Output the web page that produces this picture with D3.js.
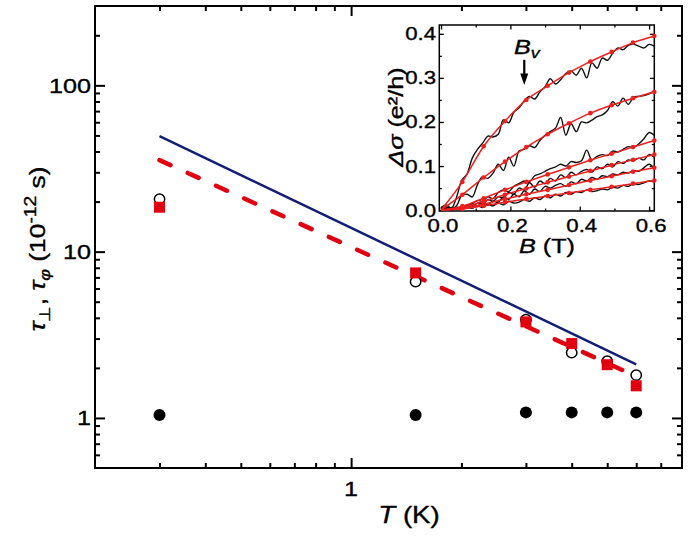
<!DOCTYPE html>
<html>
<head>
<meta charset="utf-8">
<script src="https://cdn.jsdelivr.net/npm/d3@7"></script>
<style>
  body { margin: 0; background: #fff; }
  svg text { font-family: "Liberation Sans", Arial, sans-serif; fill: #000; stroke: #000; stroke-width: 0.35px; }
</style>
</head>
<body>
<div id="chart"></div>
<script>
////////////////////////////////////////////////////////////
//////////////////////// Data //////////////////////////////
////////////////////////////////////////////////////////////

// main panel: temperature (K) and times (10^-12 s)
var T = [0.3, 1.5, 3, 4, 5, 6];
var tauPerp = [1.04, 1.04, 1.08, 1.08, 1.08, 1.08];     // filled circles
var tauPhiOpen = [20.7, 6.6, 3.9, 2.47, 2.19, 1.81];     // open circles
var tauPhiSquare = [18.5, 7.45, 3.78, 2.8, 2.09, 1.56];  // red squares

var fitT = [0.3, 6];
var fitBlue = [49.5, 2.1];
var fitRed = [35.5, 1.78];

var mainXLabels = [1];
var mainYLabels = [1, 10, 100];

// inset: magnetoconductance vs B (T)
var Bfit = [0, 0.0615, 0.123, 0.1845, 0.246, 0.3075, 0.369, 0.4305, 0.492, 0.5535, 0.615];
var fit1 = [0, 0.064, 0.145, 0.202, 0.25, 0.282, 0.312, 0.337, 0.359, 0.38, 0.395];
var fit2 = [0, 0.035, 0.074, 0.11, 0.143, 0.172, 0.197, 0.22, 0.238, 0.254, 0.268];
var fit3 = [0, 0.009, 0.027, 0.046, 0.064, 0.081, 0.097, 0.113, 0.128, 0.143, 0.158];
var fit4 = [0, 0.006, 0.02, 0.035, 0.049, 0.063, 0.076, 0.089, 0.102, 0.114, 0.126];
var fit5 = [0, 0.004, 0.014, 0.025, 0.036, 0.046, 0.057, 0.067, 0.077, 0.087, 0.096];
var fit6 = [0, 0.003, 0.01, 0.018, 0.025, 0.032, 0.039, 0.046, 0.053, 0.06, 0.067];

var Bmeas = [0, 0.015, 0.03, 0.045, 0.06, 0.075, 0.09, 0.105, 0.12, 0.135,
             0.15, 0.165, 0.18, 0.195, 0.21, 0.225, 0.24, 0.255, 0.27, 0.285,
             0.3, 0.315, 0.33, 0.345, 0.36, 0.375, 0.39, 0.405, 0.42, 0.435,
             0.45, 0.465, 0.48, 0.495, 0.51, 0.525, 0.54, 0.555, 0.57, 0.585,
             0.6, 0.615];
var meas1 = [0.005, 0.012, 0.004, 0.03, 0.068, 0.082, 0.118, 0.138, 0.152, 0.168,
             0.166, 0.172, 0.205, 0.198, 0.222, 0.232, 0.248, 0.258, 0.252, 0.268,
             0.28, 0.298, 0.286, 0.296, 0.31, 0.316, 0.306, 0.322, 0.3, 0.334,
             0.322, 0.345, 0.34, 0.356, 0.368, 0.364, 0.374, 0.376, 0.372, 0.368,
             0.376, 0.372];
var meas2 = [0.002, 0.006, 0.003, 0.01, 0.034, 0.036, 0.03, 0.058, 0.076, 0.072,
             0.084, 0.104, 0.09, 0.12, 0.1, 0.134, 0.138, 0.146, 0.142, 0.158,
             0.17, 0.178, 0.186, 0.21, 0.17, 0.196, 0.178, 0.2, 0.198, 0.204,
             0.212, 0.216, 0.226, 0.246, 0.236, 0.254, 0.24, 0.256, 0.258, 0.26,
             0.264, 0.27];
var meas3 = [0.004, 0.008, 0.002, 0.006, 0.004, 0.01, 0.014, 0.022, 0.02, 0.03,
             0.026, 0.04, 0.046, 0.042, 0.054, 0.06, 0.066, 0.064, 0.078, 0.082,
             0.088, 0.094, 0.098, 0.104, 0.1, 0.11, 0.108, 0.112, 0.136, 0.114,
             0.122, 0.126, 0.124, 0.134, 0.132, 0.138, 0.144, 0.142, 0.15, 0.162,
             0.176, 0.17];
var meas4 = [0.002, 0.004, 0, 0.006, 0.002, 0.008, 0.006, 0.016, 0.012, 0.024,
             0.02, 0.03, 0.028, 0.04, 0.036, 0.05, 0.046, 0.062, 0.052, 0.066,
             0.06, 0.072, 0.066, 0.08, 0.074, 0.086, 0.08, 0.088, 0.092, 0.086,
             0.098, 0.094, 0.104, 0.098, 0.11, 0.106, 0.114, 0.112, 0.118, 0.114,
             0.126, 0.12];
var meas5 = [0.004, 0, 0.006, 0.002, 0.008, 0.004, 0.01, 0.008, 0.016, 0.012,
             0.02, 0.018, 0.03, 0.024, 0.036, 0.03, 0.044, 0.036, 0.048, 0.042,
             0.054, 0.05, 0.056, 0.06, 0.054, 0.064, 0.06, 0.07, 0.066, 0.074,
             0.07, 0.078, 0.076, 0.082, 0.08, 0.086, 0.084, 0.09, 0.088, 0.096,
             0.104, 0.094];
var meas6 = [0.002, 0.006, 0, 0.004, 0.002, 0.006, 0.004, 0.01, 0.006, 0.012,
             0.01, 0.016, 0.012, 0.02, 0.016, 0.018, 0.024, 0.02, 0.028, 0.024,
             0.032, 0.028, 0.036, 0.032, 0.04, 0.036, 0.042, 0.04, 0.046, 0.042,
             0.044, 0.048, 0.046, 0.052, 0.05, 0.056, 0.054, 0.06, 0.058, 0.062,
             0.066, 0.064];

var insetXLabels = [0, 0.2, 0.4, 0.6];
var insetYLabels = [0, 0.1, 0.2, 0.3, 0.4];
var Bv = 0.24;

////////////////////////////////////////////////////////////
//////////////////////// Setup /////////////////////////////
////////////////////////////////////////////////////////////

var width = 688, height = 537;
var blue = "#121f74", red = "#e0000f", red2 = "#ee1f1f";
var SX = 1.2; // the fonts in the figure are a bit wide

var svg = d3.select("#chart").append("svg")
    .attr("width", width)
    .attr("height", height);

var x = d3.scaleLog().domain([0.2, 8]).range([95, 682]);
var y = d3.scaleLog().domain([0.5, 300]).range([468, 6]);

function isDecade(v) {
  var l = Math.log10(v);
  return Math.abs(l - Math.round(l)) < 1e-6;
}

//text placed with a translate and a horizontal stretch
function label(x0, y0, size, anchor, rot) {
  return svg.append("text")
    .attr("transform", "translate(" + x0 + "," + y0 + ")" + (rot ? " rotate(" + rot + ")" : "") + " scale(" + SX + ",1)")
    .attr("text-anchor", anchor)
    .style("font-size", size + "px");
}

function styleAxis(g, w) {
  g.select(".domain").remove();
  g.selectAll(".tick line").attr("stroke", "#000").attr("stroke-width", w);
}

////////////////////////////////////////////////////////////
////////////////////// Main axes ///////////////////////////
////////////////////////////////////////////////////////////

var xMinor = x.ticks().filter(function (v) { return !isDecade(v) && v > 0.2 && v < 8; });
var yMinor = y.ticks().filter(function (v) { return !isDecade(v) && v > 0.5 && v < 300; });

[[d3.axisBottom, "translate(0,468)", x], [d3.axisTop, "translate(0,6)", x],
 [d3.axisLeft, "translate(95,0)", y], [d3.axisRight, "translate(682,0)", y]]
.forEach(function (a) {
  var sc = a[2];
  var minor = sc === x ? xMinor : yMinor;
  var major = sc === x ? mainXLabels : mainYLabels;
  svg.append("g").attr("transform", a[1])
    .call(a[0](sc).tickValues(minor).tickSize(-5).tickSizeOuter(0).tickFormat(""))
    .call(styleAxis, 2);
  svg.append("g").attr("transform", a[1])
    .call(a[0](sc).tickValues(major).tickSize(-10).tickSizeOuter(0).tickFormat(""))
    .call(styleAxis, 2);
});

svg.append("rect")
  .attr("x", 95).attr("y", 6)
  .attr("width", 587).attr("height", 462)
  .attr("fill", "none").attr("stroke", "#000").attr("stroke-width", 2);

mainYLabels.forEach(function (v) {
  label(91, y(v) + 7.5, 21, "end").text(v);
});
mainXLabels.forEach(function (v) {
  label(x(v), 496, 21, "middle").text(v);
});

var xt = label(409, 523, 23, "middle");
xt.append("tspan").style("font-style", "italic").text("T");
xt.append("tspan").text(" (K)");

var yt = label(45, 249, 22, "middle", -90);
yt.append("tspan").style("font-style", "italic").text("τ");
yt.append("tspan").attr("dy", 5).style("font-size", "15px").text("⊥");
yt.append("tspan").attr("dy", -5).text(", ");
yt.append("tspan").style("font-style", "italic").text("τ");
yt.append("tspan").attr("dy", 5).style("font-size", "15px").style("font-style", "italic").text("φ");
yt.append("tspan").attr("dy", -5).text(" (10");
yt.append("tspan").attr("dy", -9).style("font-size", "16px").text("-12");
yt.append("tspan").attr("dy", 9).text(" s)");

////////////////////////////////////////////////////////////
////////////////////// Main marks //////////////////////////
////////////////////////////////////////////////////////////

var line = d3.line()
  .x(function (d) { return x(d[0]); })
  .y(function (d) { return y(d[1]); });

svg.append("path")
  .datum(d3.zip(fitT, fitBlue))
  .attr("d", line)
  .attr("fill", "none").attr("stroke", blue).attr("stroke-width", 2.5);

svg.append("path")
  .datum(d3.zip(fitT, fitRed))
  .attr("d", line)
  .attr("fill", "none").attr("stroke", red).attr("stroke-width", 4.5)
  .attr("stroke-linecap", "round")
  .attr("stroke-dasharray", "12,19");

svg.append("g").selectAll("circle")
  .data(d3.zip(T, tauPhiOpen))
  .enter().append("circle")
  .attr("cx", function (d) { return x(d[0]); })
  .attr("cy", function (d) { return y(d[1]); })
  .attr("r", 5.2)
  .attr("fill", "#fff").attr("stroke", "#000").attr("stroke-width", 1.5);

svg.append("g").selectAll("rect")
  .data(d3.zip(T, tauPhiSquare))
  .enter().append("rect")
  .attr("x", function (d) { return x(d[0]) - 5.5; })
  .attr("y", function (d) { return y(d[1]) - 5.5; })
  .attr("width", 11).attr("height", 11)
  .attr("fill", red);

svg.append("g").selectAll("circle")
  .data(d3.zip(T, tauPerp))
  .enter().append("circle")
  .attr("cx", function (d) { return x(d[0]); })
  .attr("cy", function (d) { return y(d[1]); })
  .attr("r", 6)
  .attr("fill", "#000");

////////////////////////////////////////////////////////////
//////////////////////// Inset /////////////////////////////
////////////////////////////////////////////////////////////

var xi = d3.scaleLinear().domain([-0.005, 0.615]).range([439.3, 654.3]);
var yi = d3.scaleLinear().domain([-0.002, 0.42]).range([211, 25]);

var xiMajor = insetXLabels, xiMinor = [0.1, 0.3, 0.5];
var yiMajor = insetYLabels, yiMinor = [0.05, 0.15, 0.25, 0.35];

[[d3.axisBottom, "translate(0,211)", xi], [d3.axisTop, "translate(0,25)", xi],
 [d3.axisLeft, "translate(439.3,0)", yi], [d3.axisRight, "translate(654.3,0)", yi]]
.forEach(function (a) {
  var sc = a[2];
  svg.append("g").attr("transform", a[1])
    .call(a[0](sc).tickValues(sc === xi ? xiMinor : yiMinor).tickSize(-2.5).tickSizeOuter(0).tickFormat(""))
    .call(styleAxis, 1.3);
  svg.append("g").attr("transform", a[1])
    .call(a[0](sc).tickValues(sc === xi ? xiMajor : yiMajor).tickSize(-4.5).tickSizeOuter(0).tickFormat(""))
    .call(styleAxis, 1.3);
});

svg.append("rect")
  .attr("x", 439.3).attr("y", 25)
  .attr("width", 215).attr("height", 186)
  .attr("fill", "none").attr("stroke", "#000").attr("stroke-width", 1.5);

insetYLabels.forEach(function (v) {
  label(436, yi(v) + 6.5, 18.5, "end").text(d3.format(".1f")(v));
});
insetXLabels.forEach(function (v) {
  label(xi(v) + 2, 232, 18.5, "middle").text(d3.format(".1f")(v));
});

var bt = label(547, 253, 21, "middle");
bt.append("tspan").style("font-style", "italic").text("B");
bt.append("tspan").text(" (T)");

var st = label(403, 117, 21, "middle", -90);
st.append("tspan").style("font-style", "italic").text("Δσ");
st.append("tspan").text(" (e²/h)");

var lineI = d3.line()
  .x(function (d) { return xi(d[0]); })
  .y(function (d) { return yi(d[1]); });

var measured = [meas1, meas2, meas3, meas4, meas5, meas6];
var fits = [fit1, fit2, fit3, fit4, fit5, fit6];

svg.append("g").selectAll("path")
  .data(measured)
  .enter().append("path")
  .attr("d", function (m) { return lineI.curve(d3.curveCatmullRom)(d3.zip(Bmeas, m)); })
  .attr("fill", "none").attr("stroke", "#111").attr("stroke-width", 1.4);

var fitG = svg.append("g");
fits.forEach(function (f) {
  var pts = d3.zip(Bfit, f);
  fitG.append("path")
    .attr("d", lineI.curve(d3.curveMonotoneX)(pts))
    .attr("fill", "none").attr("stroke", red2).attr("stroke-width", 1.5);
  fitG.selectAll(null)
    .data(pts.slice(1))
    .enter().append("circle")
    .attr("cx", function (d) { return xi(d[0]); })
    .attr("cy", function (d) { return yi(d[1]); })
    .attr("r", 2.3)
    .attr("fill", red2);
});

// B_v annotation with arrow
var bv = label(514, 54, 21, "start");
bv.append("tspan").style("font-style", "italic").text("B");
bv.append("tspan").attr("dy", 4).style("font-size", "15px").style("font-style", "italic").text("v");

svg.append("line")
  .attr("x1", xi(Bv)).attr("x2", xi(Bv))
  .attr("y1", yi(0.341)).attr("y2", yi(0.305))
  .attr("stroke", "#000").attr("stroke-width", 2.2);
svg.append("path")
  .attr("d", "M" + (xi(Bv) - 4) + "," + yi(0.31) + "L" + (xi(Bv) + 4) + "," + yi(0.31) + "L" + xi(Bv) + "," + yi(0.284) + "Z")
  .attr("fill", "#000");
</script>
</body>
</html>
